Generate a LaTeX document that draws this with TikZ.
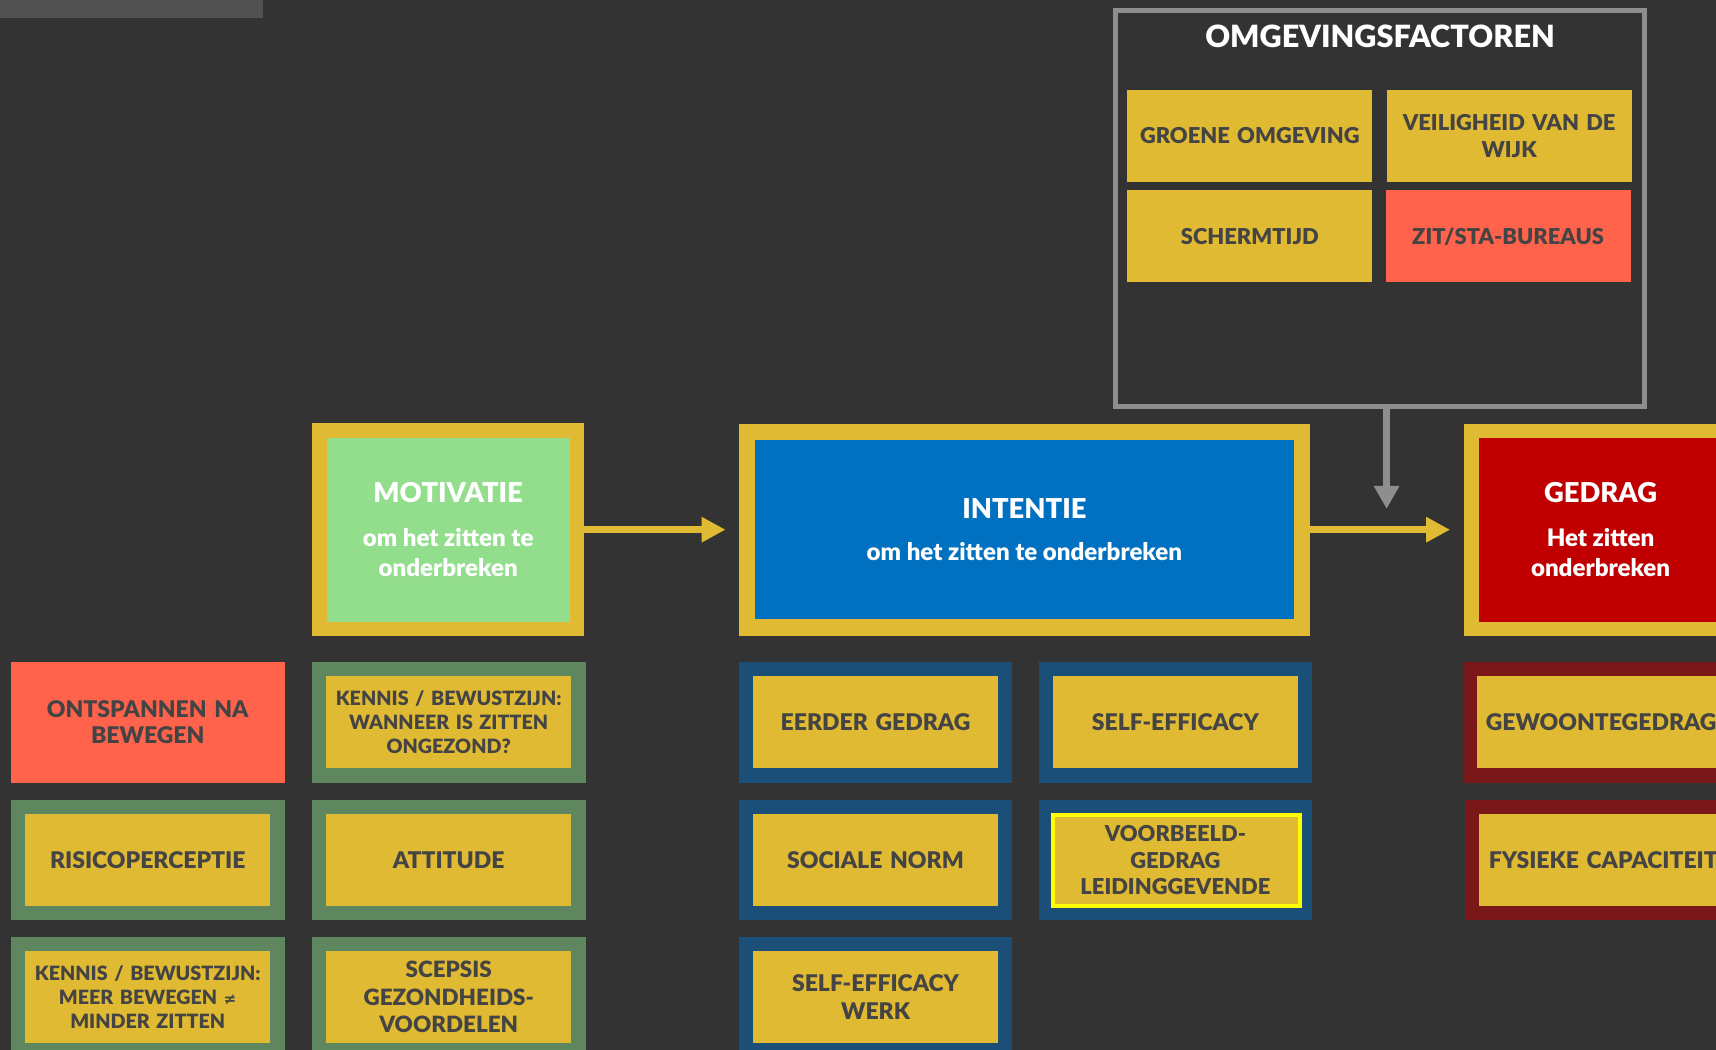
\documentclass[tikz,border=0pt]{standalone}
\usepackage{fontspec}
\setmainfont{Lato}[BoldFont={Lato Black}]
\newfontfamily\symfont{DejaVu Sans}
\usetikzlibrary{arrows.meta}
\definecolor{bg}{HTML}{333333}
\definecolor{topbar}{HTML}{525252}
\definecolor{gold}{HTML}{E0BA32}
\definecolor{txt}{HTML}{444444}
\definecolor{ogreen}{HTML}{5F875F}
\definecolor{oblue}{HTML}{1B4F78}
\definecolor{ored}{HTML}{7A1719}
\definecolor{orangered}{HTML}{FF634B}
\definecolor{mgreen}{HTML}{93DE8D}
\definecolor{iblue}{HTML}{0070C0}
\definecolor{gred}{HTML}{C00000}
\definecolor{frameg}{HTML}{8E8E8E}
\definecolor{ybright}{HTML}{FFFF00}
\begin{document}
\begin{tikzpicture}[x=1pt,y=-1pt,
  lbl/.style={text=txt, font=\bfseries\fontsize{21}{24}\selectfont, align=center, text width=220pt, inner sep=0pt},
  small/.style={lbl, draw=#1, line width=13pt, fill=gold, minimum width=237pt, minimum height=97pt},
  plain/.style={lbl, fill=#1, minimum width=224pt, minimum height=84pt},
  big/.style={draw=gold, fill=#1, text=white, align=center, inner sep=0pt, font=\bfseries\fontsize{22}{28}\selectfont},
  flow/.style={draw=gold, line width=6pt, -{Triangle[length=22pt,width=22pt]}},
  down/.style={draw=frameg, line width=6pt, -{Triangle[length=21pt,width=22pt]}}
]
\fill[bg] (0,0) rectangle (1568,959);
\useasboundingbox (0,0) rectangle (1568,959);
\clip (0,0) rectangle (1568,959);
\fill[topbar] (0,0) rectangle (240,16);

% environment factors
\node[draw=frameg, line width=4.5pt, minimum width=483pt, minimum height=362pt, inner sep=0pt] (omg) at (1261,190.5) {};
\node[text=white, font=\bfseries\fontsize{28}{30}\selectfont, inner sep=0pt] (omgt) at (1261,33) {OMGEVINGSFACTOREN};
\node[plain=gold, font=\bfseries\fontsize{20}{24.5}\selectfont] (groen) at (1142,124) {GROENE OMGEVING};
\node[plain=gold, font=\bfseries\fontsize{20}{24.5}\selectfont] (veil) at (1379,124) {VEILIGHEID VAN DE\\WIJK};
\node[plain=gold, font=\bfseries\fontsize{20}{24.5}\selectfont] (scherm) at (1142,216) {SCHERMTIJD};
\node[plain=orangered, font=\bfseries\fontsize{20}{24.5}\selectfont] (zit) at (1378,216) {ZIT/STA-BUREAUS};

% main boxes
\node[big=mgreen, line width=13.5pt, minimum width=235.5pt, minimum height=181.5pt] (mot) at (409.5,484)
  {{\fontsize{25}{28}\selectfont MOTIVATIE}\\[12pt]om het zitten te\\onderbreken};
\node[big=iblue, line width=15pt, minimum width=507pt, minimum height=179pt] (int) at (936,484)
  {{\fontsize{25}{28}\selectfont INTENTIE}\\[11pt]om het zitten te onderbreken};
\node[big=gred, line width=13pt, minimum width=236pt, minimum height=181pt] (ged) at (1462.5,484)
  {{\fontsize{25}{28}\selectfont GEDRAG}\\[12pt]Het zitten\\onderbreken};

% connectors
\draw[flow, shorten >=12pt] (mot.east) -- (mot.east -| int.west);
\draw[flow, shorten >=13pt] (int.east) -- (int.east -| ged.west);
\coordinate (gtip) at (1267,465);
\draw[down] (gtip |- omg.south) -- (gtip);

% determinant boxes
\node[plain=orangered, minimum width=250pt, minimum height=110pt, font=\bfseries\fontsize{21}{23.5}\selectfont] (ontsp) at (135,660) {ONTSPANNEN NA\\BEWEGEN};
\node[small=ogreen] (risico) at (135,786) {RISICOPERCEPTIE};
\node[small=ogreen, font=\bfseries\fontsize{18}{22}\selectfont] (kennis2) at (135,911) {KENNIS / BEWUSTZIJN:\\MEER BEWEGEN {\symfont\bfseries\fontsize{14}{22}\selectfont ≠}\\MINDER ZITTEN};

\node[small=ogreen, font=\bfseries\fontsize{18}{22}\selectfont] (kennis1) at (410,660) {KENNIS / BEWUSTZIJN:\\WANNEER IS ZITTEN\\ONGEZOND?};
\node[small=ogreen] (attitude) at (410,786) {ATTITUDE};
\node[small=ogreen, font=\bfseries\fontsize{20.5}{25}\selectfont] (scepsis) at (410,911) {SCEPSIS\\GEZONDHEIDS-\\VOORDELEN};

\node[small=oblue] (eerder) at (800,660) {EERDER GEDRAG};
\node[small=oblue] (sociale) at (800,786) {SOCIALE NORM};
\node[small=oblue, font=\bfseries\fontsize{21}{25}\selectfont] (sewerk) at (800,911) {SELF-EFFICACY\\WERK};

\node[small=oblue] (se) at (1074,660) {SELF-EFFICACY};
\node[small=oblue, font=\bfseries\fontsize{20}{24.5}\selectfont] (voorb) at (1074,786) {VOORBEELD-\\GEDRAG\\LEIDINGGEVENDE};
\draw[ybright, line width=3.5pt] (voorb.north west) ++(13.5,13.5) rectangle ([xshift=-11.5pt,yshift=13pt]voorb.south east);

\node[small=ored, text width=240pt] (gewoonte) at (1463,660) {GEWOONTEGEDRAG};
\node[small=ored, text width=240pt] (fysiek) at (1465,786) {FYSIEKE CAPACITEIT};
\end{tikzpicture}
\end{document}
